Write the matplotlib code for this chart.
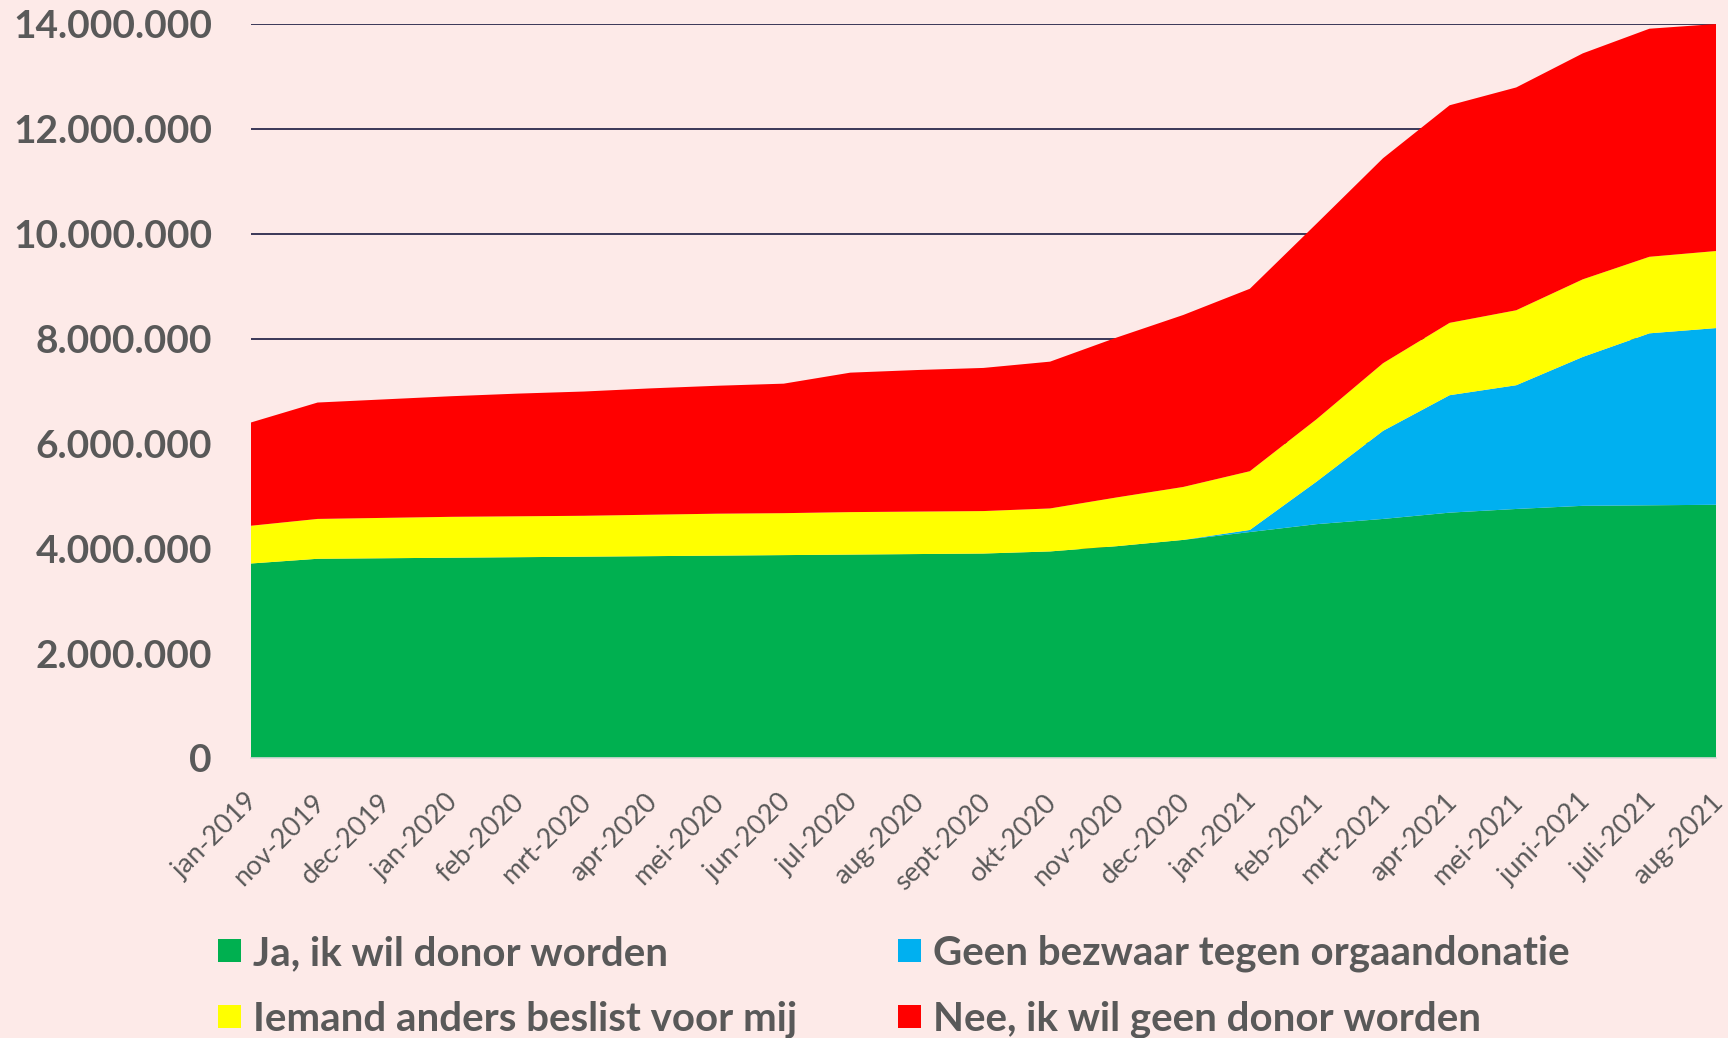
import matplotlib
matplotlib.use("Agg")
import matplotlib.pyplot as plt
from matplotlib.patches import Rectangle
from matplotlib.transforms import ScaledTranslation
import numpy as np

plt.rcParams['font.family'] = ['Lato', 'DejaVu Sans']

months = ["jan-2019", "nov-2019", "dec-2019", "jan-2020", "feb-2020", "mrt-2020",
          "apr-2020", "mei-2020", "jun-2020", "jul-2020", "aug-2020", "sept-2020",
          "okt-2020", "nov-2020", "dec-2020", "jan-2021", "feb-2021", "mrt-2021",
          "apr-2021", "mei-2021", "juni-2021", "juli-2021", "aug-2021"]

# values in millions
ja_donor = [3.71, 3.80, 3.81, 3.82, 3.83, 3.84, 3.85, 3.86, 3.87, 3.88, 3.89, 3.90,
            3.94, 4.04, 4.16, 4.31, 4.46, 4.56, 4.68, 4.75, 4.81, 4.82, 4.83]
geen_bezwaar = [0, 0, 0, 0, 0, 0, 0, 0, 0, 0, 0, 0, 0, 0, 0,
                0.04, 0.81, 1.68, 2.24, 2.36, 2.84, 3.28, 3.37]
iemand_anders = [0.72, 0.76, 0.77, 0.78, 0.78, 0.78, 0.79, 0.80, 0.80, 0.81, 0.81, 0.81,
                 0.82, 0.93, 1.01, 1.12, 1.19, 1.29, 1.38, 1.43, 1.48, 1.46, 1.47]
nee_donor = [1.97, 2.22, 2.26, 2.30, 2.34, 2.37, 2.41, 2.44, 2.47, 2.66, 2.70, 2.73,
             2.80, 3.05, 3.28, 3.48, 3.73, 3.91, 4.15, 4.25, 4.31, 4.35, 4.33]

series_labels = ["Ja, ik wil donor worden", "Geen bezwaar tegen orgaandonatie",
                 "Iemand anders beslist voor mij", "Nee, ik wil geen donor worden"]
colors = ["#00B050", "#00B0F0", "#FFFF00", "#FF0000"]
yticks = [0, 2e6, 4e6, 6e6, 8e6, 10e6, 12e6, 14e6]

BG = "#FDEAE8"
TXT = "#595959"

W, H = 1728, 1038
fig = plt.figure(figsize=(W / 100, H / 100), dpi=100, facecolor=BG)
ax = fig.add_axes([251 / W, 1 - 758 / H, (1716 - 251) / W, (758 - 24) / H])
ax.set_facecolor(BG)

x = np.arange(len(months))
data = [np.array(s) * 1e6 for s in (ja_donor, geen_bezwaar, iemand_anders, nee_donor)]
ax.stackplot(x, *data, colors=colors, linewidth=0, zorder=2)

ax.set_xlim(0, len(months) - 1)
ax.set_ylim(0, 14e6)
ax.set_yticks(yticks)
ax.set_yticklabels([f"{int(v):,}".replace(",", ".") for v in yticks],
                   fontsize=28, fontweight="bold", color=TXT)
ax.set_xticks(x)
ax.set_xticklabels(months, rotation=45, ha="right", va="center",
                   rotation_mode="anchor", fontsize=19.5, color=TXT)
ax.tick_params(axis="y", length=0, pad=28)
ax.tick_params(axis="x", length=0, pad=29)
shift = ScaledTranslation(3 / 100, 0, fig.dpi_scale_trans)
for lbl in ax.get_xticklabels():
    lbl.set_transform(lbl.get_transform() + shift)

ax.set_axisbelow(True)
ax.yaxis.grid(True, color="#2B2A4C", linewidth=1.3, zorder=0)
for s in ["left", "right", "top"]:
    ax.spines[s].set_visible(False)
ax.spines["bottom"].set_color("#D9D9D9")
ax.spines["bottom"].set_linewidth(1.2)
ax.spines["bottom"].set_zorder(3)

# legend (manual, two columns)
legend_pos = [(218, 950), (898, 950), (218, 1016), (898, 1016)]
for idx, (px, py) in enumerate(legend_pos):
    sq = 23
    fig.add_artist(Rectangle((px / W, 1 - (py + sq / 2) / H), sq / W, sq / H,
                             transform=fig.transFigure, facecolor=colors[idx],
                             edgecolor="none"))
    fig.text((px + sq + 12) / W, 1 - py / H, series_labels[idx], fontsize=29,
             fontweight="bold", color=TXT, ha="left", va="center_baseline")

fig.savefig("out.png", dpi=100, facecolor=BG)
